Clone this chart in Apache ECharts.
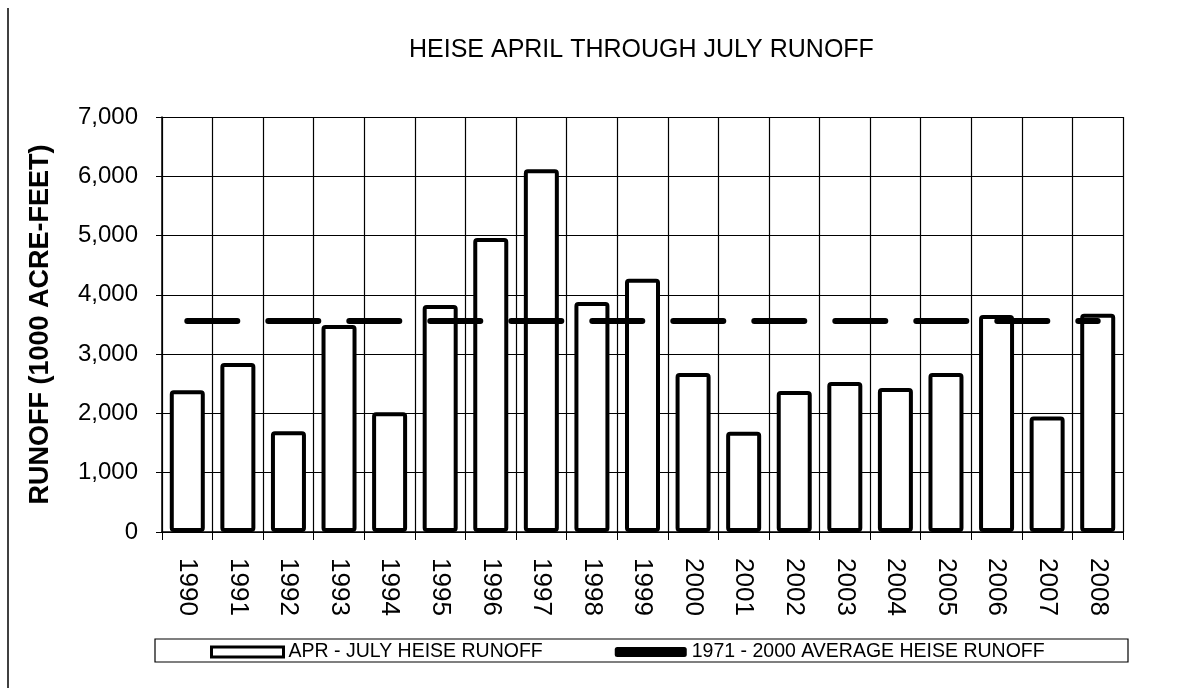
<!DOCTYPE html>
<html>
<head>
    <meta charset="utf-8">
    <title>Heise runoff</title>
    <style>
        html, body { margin: 0; padding: 0; background: #fff; }
        #container { width: 1189px; height: 688px; }
    </style>
</head>
<body>
<div id="container"></div>
<script src="https://cdn.jsdelivr.net/npm/echarts@6/dist/echarts.min.js"></script>
<script type="text/javascript">
    var years = ['1990', '1991', '1992', '1993', '1994', '1995', '1996', '1997', '1998', '1999',
                 '2000', '2001', '2002', '2003', '2004', '2005', '2006', '2007', '2008'];
    // APR - JULY runoff, 1000 acre-feet
    var runoff = [2390, 2850, 1700, 3490, 2020, 3830, 4960, 6120, 3880, 4270,
                  2680, 1690, 2380, 2530, 2430, 2680, 3660, 1950, 3680];
    // 1971 - 2000 average
    var average = [3560, 3560, 3560, 3560, 3560, 3560, 3560, 3560, 3560, 3560,
                   3560, 3560, 3560, 3560, 3560, 3560, 3560, 3560, 3560];
    var yTicks = [0, 1000, 2000, 3000, 4000, 5000, 6000, 7000];

    var barName = 'APR - JULY HEISE RUNOFF';
    var lineName = '1971 - 2000 AVERAGE HEISE RUNOFF';
    var font = '"Liberation Sans", Arial, sans-serif';

    var myChart = echarts.init(document.getElementById('container'));

    var option = {
        animation: false,
        backgroundColor: '#fff',
        textStyle: { fontFamily: font, color: '#000' },
        title: {
            text: 'HEISE APRIL THROUGH JULY RUNOFF',
            left: 404,
            top: 33,
            textStyle: { fontFamily: font, fontSize: 25, fontWeight: 'normal', color: '#000' }
        },
        legend: {
            left: 205,
            top: 637,
            itemWidth: 72,
            itemHeight: 10,
            itemGap: 72,
            textStyle: { fontFamily: font, fontSize: 19.5, color: '#000' },
            data: [
                { name: barName, icon: 'rect', itemStyle: { color: '#fff', borderColor: '#000', borderWidth: 3 } },
                { name: lineName, icon: 'roundRect', itemStyle: { color: '#000', borderWidth: 0 } }
            ]
        },
        graphic: [
            // legend frame
            { type: 'rect', shape: { x: 155, y: 639, width: 973, height: 23 },
              style: { fill: 'none', stroke: '#000', lineWidth: 1.2 }, silent: true },
            // scan edge on the left
            { type: 'line', shape: { x1: 8, y1: 8, x2: 8, y2: 688 },
              style: { stroke: '#000', lineWidth: 1.5 }, silent: true }
        ],
        grid: {
            left: 162,
            right: 66,
            top: 117,
            bottom: 156
        },
        xAxis: {
            type: 'category',
            data: years,
            boundaryGap: true,
            axisLine: { show: true, lineStyle: { color: '#000', width: 1.5 } },
            axisTick: { show: true, length: 8, lineStyle: { color: '#000', width: 1 } },
            axisLabel: {
                rotate: -90,
                margin: 26,
                fontFamily: font,
                fontSize: 26,
                color: '#000'
            },
            splitLine: { show: true, lineStyle: { color: '#000', width: 1.2 } }
        },
        yAxis: {
            type: 'value',
            min: yTicks[0],
            max: yTicks[yTicks.length - 1],
            interval: 1000,
            name: 'RUNOFF (1000 ACRE-FEET)',
            nameLocation: 'middle',
            nameGap: 108,
            nameTextStyle: { fontFamily: font, fontSize: 27, fontWeight: 'bold', color: '#000' },
            axisLine: { show: true, lineStyle: { color: '#000', width: 1.5 } },
            axisTick: { show: true, length: 6, lineStyle: { color: '#000' } },
            axisLabel: {
                margin: 24,
                fontFamily: font,
                fontSize: 24,
                color: '#000',
                formatter: function (v) { return v.toLocaleString('en-US'); }
            },
            splitLine: { show: true, lineStyle: { color: '#000', width: 1.2 } }
        },
        series: [
            {
                name: barName,
                type: 'bar',
                data: runoff,
                barWidth: 35,
                itemStyle: { color: '#fff', borderColor: '#000', borderWidth: 4, borderRadius: 2 },
                z: 2
            },
            {
                name: lineName,
                type: 'line',
                data: average,
                symbol: 'none',
                lineStyle: { color: '#000', width: 6, type: [50, 31], cap: 'round' },
                z: 3
            }
        ]
    };

    if (option && typeof option === 'object') {
        myChart.setOption(option, true);
    }
</script>
</body>
</html>
